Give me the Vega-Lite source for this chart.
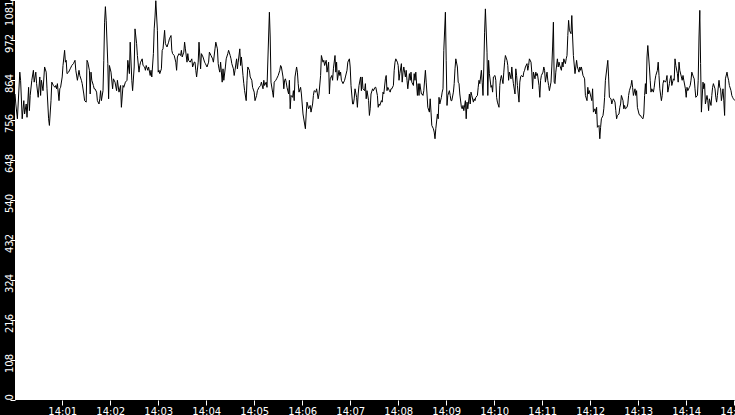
{
  "$schema": "https://vega.github.io/schema/vega-lite/v6.json",
  "width": 720,
  "height": 400,
  "autosize": {"type": "none"},
  "padding": {"left": 15, "top": 0, "right": 0, "bottom": 15},
  "background": "#000000",
  "config": {"view": {"fill": "#ffffff", "stroke": null}, "font": "DejaVu Sans"},
  "data": {
    "values": [
      {"t":"2024-01-01T14:00:01","v":827},{"t":"2024-01-01T14:00:02","v":800},{"t":"2024-01-01T14:00:04","v":760},{"t":"2024-01-01T14:00:07","v":886},{"t":"2024-01-01T14:00:08","v":864},{"t":"2024-01-01T14:00:10","v":760},{"t":"2024-01-01T14:00:12","v":809},{"t":"2024-01-01T14:00:13","v":773},{"t":"2024-01-01T14:00:15","v":800},{"t":"2024-01-01T14:00:16","v":764},{"t":"2024-01-01T14:00:18","v":845},{"t":"2024-01-01T14:00:19","v":782},{"t":"2024-01-01T14:00:20","v":823},{"t":"2024-01-01T14:00:22","v":864},{"t":"2024-01-01T14:00:24","v":891},{"t":"2024-01-01T14:00:25","v":859},{"t":"2024-01-01T14:00:27","v":886},{"t":"2024-01-01T14:00:28","v":855},{"t":"2024-01-01T14:00:30","v":818},{"t":"2024-01-01T14:00:32","v":873},{"t":"2024-01-01T14:00:33","v":823},{"t":"2024-01-01T14:00:34","v":864},{"t":"2024-01-01T14:00:36","v":836},{"t":"2024-01-01T14:00:38","v":900},{"t":"2024-01-01T14:00:40","v":886},{"t":"2024-01-01T14:00:41","v":841},{"t":"2024-01-01T14:00:43","v":760},{"t":"2024-01-01T14:00:44","v":742},{"t":"2024-01-01T14:00:46","v":809},{"t":"2024-01-01T14:00:47","v":859},{"t":"2024-01-01T14:00:49","v":850},{"t":"2024-01-01T14:00:51","v":845},{"t":"2024-01-01T14:00:52","v":850},{"t":"2024-01-01T14:00:53","v":841},{"t":"2024-01-01T14:00:54","v":855},{"t":"2024-01-01T14:00:56","v":809},{"t":"2024-01-01T14:00:57","v":841},{"t":"2024-01-01T14:00:58","v":845},
      {"t":"2024-01-01T14:01:00","v":873},{"t":"2024-01-01T14:01:01","v":904},{"t":"2024-01-01T14:01:03","v":945},{"t":"2024-01-01T14:01:04","v":913},{"t":"2024-01-01T14:01:05","v":918},{"t":"2024-01-01T14:01:06","v":882},{"t":"2024-01-01T14:01:08","v":886},{"t":"2024-01-01T14:01:10","v":895},{"t":"2024-01-01T14:01:12","v":904},{"t":"2024-01-01T14:01:14","v":909},{"t":"2024-01-01T14:01:16","v":918},{"t":"2024-01-01T14:01:17","v":891},{"t":"2024-01-01T14:01:19","v":864},{"t":"2024-01-01T14:01:21","v":891},{"t":"2024-01-01T14:01:22","v":877},{"t":"2024-01-01T14:01:24","v":864},{"t":"2024-01-01T14:01:25","v":855},{"t":"2024-01-01T14:01:27","v":827},{"t":"2024-01-01T14:01:28","v":809},{"t":"2024-01-01T14:01:30","v":805},{"t":"2024-01-01T14:01:31","v":918},{"t":"2024-01-01T14:01:32","v":913},{"t":"2024-01-01T14:01:34","v":891},{"t":"2024-01-01T14:01:35","v":827},{"t":"2024-01-01T14:01:36","v":886},{"t":"2024-01-01T14:01:37","v":864},{"t":"2024-01-01T14:01:39","v":850},{"t":"2024-01-01T14:01:40","v":841},{"t":"2024-01-01T14:01:41","v":841},{"t":"2024-01-01T14:01:43","v":832},{"t":"2024-01-01T14:01:44","v":809},{"t":"2024-01-01T14:01:46","v":800},{"t":"2024-01-01T14:01:47","v":814},{"t":"2024-01-01T14:01:48","v":836},{"t":"2024-01-01T14:01:49","v":809},{"t":"2024-01-01T14:01:51","v":836},{"t":"2024-01-01T14:01:52","v":918},{"t":"2024-01-01T14:01:53","v":1021},{"t":"2024-01-01T14:01:54","v":1063},{"t":"2024-01-01T14:01:55","v":1026},{"t":"2024-01-01T14:01:57","v":909},{"t":"2024-01-01T14:01:58","v":814},{"t":"2024-01-01T14:01:59","v":904},
      {"t":"2024-01-01T14:02:01","v":886},{"t":"2024-01-01T14:02:03","v":841},{"t":"2024-01-01T14:02:04","v":868},{"t":"2024-01-01T14:02:06","v":859},{"t":"2024-01-01T14:02:08","v":836},{"t":"2024-01-01T14:02:09","v":864},{"t":"2024-01-01T14:02:11","v":832},{"t":"2024-01-01T14:02:13","v":850},{"t":"2024-01-01T14:02:14","v":791},{"t":"2024-01-01T14:02:16","v":850},{"t":"2024-01-01T14:02:17","v":845},{"t":"2024-01-01T14:02:19","v":859},{"t":"2024-01-01T14:02:21","v":864},{"t":"2024-01-01T14:02:22","v":918},{"t":"2024-01-01T14:02:24","v":882},{"t":"2024-01-01T14:02:25","v":967},{"t":"2024-01-01T14:02:27","v":864},{"t":"2024-01-01T14:02:28","v":836},{"t":"2024-01-01T14:02:30","v":900},{"t":"2024-01-01T14:02:31","v":1003},{"t":"2024-01-01T14:02:33","v":963},{"t":"2024-01-01T14:02:34","v":931},{"t":"2024-01-01T14:02:36","v":886},{"t":"2024-01-01T14:02:37","v":904},{"t":"2024-01-01T14:02:38","v":913},{"t":"2024-01-01T14:02:40","v":922},{"t":"2024-01-01T14:02:41","v":904},{"t":"2024-01-01T14:02:43","v":900},{"t":"2024-01-01T14:02:44","v":891},{"t":"2024-01-01T14:02:45","v":904},{"t":"2024-01-01T14:02:47","v":891},{"t":"2024-01-01T14:02:48","v":900},{"t":"2024-01-01T14:02:50","v":877},{"t":"2024-01-01T14:02:51","v":891},{"t":"2024-01-01T14:02:52","v":873},{"t":"2024-01-01T14:02:54","v":936},{"t":"2024-01-01T14:02:55","v":1003},{"t":"2024-01-01T14:02:56","v":1035},{"t":"2024-01-01T14:02:57","v":1079},{"t":"2024-01-01T14:02:59","v":999},
      {"t":"2024-01-01T14:03:00","v":886},{"t":"2024-01-01T14:03:01","v":891},{"t":"2024-01-01T14:03:02","v":882},{"t":"2024-01-01T14:03:04","v":895},{"t":"2024-01-01T14:03:05","v":945},{"t":"2024-01-01T14:03:06","v":949},{"t":"2024-01-01T14:03:08","v":999},{"t":"2024-01-01T14:03:09","v":963},{"t":"2024-01-01T14:03:11","v":954},{"t":"2024-01-01T14:03:13","v":967},{"t":"2024-01-01T14:03:14","v":976},{"t":"2024-01-01T14:03:16","v":985},{"t":"2024-01-01T14:03:17","v":945},{"t":"2024-01-01T14:03:18","v":936},{"t":"2024-01-01T14:03:20","v":931},{"t":"2024-01-01T14:03:22","v":913},{"t":"2024-01-01T14:03:23","v":891},{"t":"2024-01-01T14:03:24","v":927},{"t":"2024-01-01T14:03:26","v":936},{"t":"2024-01-01T14:03:28","v":931},{"t":"2024-01-01T14:03:29","v":945},{"t":"2024-01-01T14:03:30","v":927},{"t":"2024-01-01T14:03:32","v":940},{"t":"2024-01-01T14:03:33","v":967},{"t":"2024-01-01T14:03:34","v":949},{"t":"2024-01-01T14:03:36","v":913},{"t":"2024-01-01T14:03:37","v":936},{"t":"2024-01-01T14:03:38","v":918},{"t":"2024-01-01T14:03:40","v":913},{"t":"2024-01-01T14:03:42","v":922},{"t":"2024-01-01T14:03:43","v":900},{"t":"2024-01-01T14:03:45","v":913},{"t":"2024-01-01T14:03:46","v":913},{"t":"2024-01-01T14:03:47","v":891},{"t":"2024-01-01T14:03:48","v":873},{"t":"2024-01-01T14:03:50","v":913},{"t":"2024-01-01T14:03:51","v":967},{"t":"2024-01-01T14:03:53","v":895},{"t":"2024-01-01T14:03:54","v":936},{"t":"2024-01-01T14:03:56","v":927},{"t":"2024-01-01T14:03:58","v":913},{"t":"2024-01-01T14:03:59","v":909},
      {"t":"2024-01-01T14:04:01","v":900},{"t":"2024-01-01T14:04:03","v":913},{"t":"2024-01-01T14:04:04","v":940},{"t":"2024-01-01T14:04:06","v":931},{"t":"2024-01-01T14:04:08","v":922},{"t":"2024-01-01T14:04:09","v":913},{"t":"2024-01-01T14:04:11","v":949},{"t":"2024-01-01T14:04:12","v":967},{"t":"2024-01-01T14:04:14","v":949},{"t":"2024-01-01T14:04:15","v":909},{"t":"2024-01-01T14:04:16","v":895},{"t":"2024-01-01T14:04:17","v":886},{"t":"2024-01-01T14:04:18","v":913},{"t":"2024-01-01T14:04:20","v":859},{"t":"2024-01-01T14:04:21","v":895},{"t":"2024-01-01T14:04:22","v":864},{"t":"2024-01-01T14:04:24","v":900},{"t":"2024-01-01T14:04:25","v":922},{"t":"2024-01-01T14:04:27","v":936},{"t":"2024-01-01T14:04:28","v":945},{"t":"2024-01-01T14:04:30","v":931},{"t":"2024-01-01T14:04:31","v":922},{"t":"2024-01-01T14:04:32","v":909},{"t":"2024-01-01T14:04:34","v":895},{"t":"2024-01-01T14:04:35","v":877},{"t":"2024-01-01T14:04:36","v":891},{"t":"2024-01-01T14:04:38","v":922},{"t":"2024-01-01T14:04:39","v":895},{"t":"2024-01-01T14:04:40","v":913},{"t":"2024-01-01T14:04:42","v":949},{"t":"2024-01-01T14:04:43","v":904},{"t":"2024-01-01T14:04:44","v":927},{"t":"2024-01-01T14:04:46","v":877},{"t":"2024-01-01T14:04:47","v":855},{"t":"2024-01-01T14:04:48","v":836},{"t":"2024-01-01T14:04:50","v":809},{"t":"2024-01-01T14:04:51","v":864},{"t":"2024-01-01T14:04:52","v":900},{"t":"2024-01-01T14:04:54","v":891},{"t":"2024-01-01T14:04:55","v":873},{"t":"2024-01-01T14:04:57","v":864},{"t":"2024-01-01T14:04:58","v":845},
      {"t":"2024-01-01T14:05:00","v":832},{"t":"2024-01-01T14:05:01","v":809},{"t":"2024-01-01T14:05:03","v":823},{"t":"2024-01-01T14:05:04","v":836},{"t":"2024-01-01T14:05:06","v":845},{"t":"2024-01-01T14:05:08","v":850},{"t":"2024-01-01T14:05:09","v":859},{"t":"2024-01-01T14:05:11","v":841},{"t":"2024-01-01T14:05:12","v":864},{"t":"2024-01-01T14:05:13","v":850},{"t":"2024-01-01T14:05:15","v":859},{"t":"2024-01-01T14:05:16","v":845},{"t":"2024-01-01T14:05:18","v":981},{"t":"2024-01-01T14:05:19","v":1048},{"t":"2024-01-01T14:05:20","v":981},{"t":"2024-01-01T14:05:21","v":859},{"t":"2024-01-01T14:05:23","v":832},{"t":"2024-01-01T14:05:24","v":818},{"t":"2024-01-01T14:05:25","v":859},{"t":"2024-01-01T14:05:27","v":864},{"t":"2024-01-01T14:05:28","v":868},{"t":"2024-01-01T14:05:30","v":877},{"t":"2024-01-01T14:05:32","v":891},{"t":"2024-01-01T14:05:33","v":904},{"t":"2024-01-01T14:05:34","v":900},{"t":"2024-01-01T14:05:36","v":873},{"t":"2024-01-01T14:05:37","v":841},{"t":"2024-01-01T14:05:38","v":864},{"t":"2024-01-01T14:05:39","v":868},{"t":"2024-01-01T14:05:40","v":859},{"t":"2024-01-01T14:05:41","v":845},{"t":"2024-01-01T14:05:43","v":827},{"t":"2024-01-01T14:05:44","v":864},{"t":"2024-01-01T14:05:45","v":787},{"t":"2024-01-01T14:05:46","v":823},{"t":"2024-01-01T14:05:48","v":818},{"t":"2024-01-01T14:05:49","v":836},{"t":"2024-01-01T14:05:50","v":809},{"t":"2024-01-01T14:05:51","v":873},{"t":"2024-01-01T14:05:53","v":900},{"t":"2024-01-01T14:05:54","v":886},{"t":"2024-01-01T14:05:55","v":855},{"t":"2024-01-01T14:05:56","v":832},{"t":"2024-01-01T14:05:58","v":845},{"t":"2024-01-01T14:05:59","v":827},
      {"t":"2024-01-01T14:06:01","v":773},{"t":"2024-01-01T14:06:03","v":746},{"t":"2024-01-01T14:06:04","v":733},{"t":"2024-01-01T14:06:05","v":773},{"t":"2024-01-01T14:06:06","v":805},{"t":"2024-01-01T14:06:08","v":787},{"t":"2024-01-01T14:06:10","v":796},{"t":"2024-01-01T14:06:11","v":778},{"t":"2024-01-01T14:06:13","v":800},{"t":"2024-01-01T14:06:14","v":823},{"t":"2024-01-01T14:06:15","v":836},{"t":"2024-01-01T14:06:17","v":832},{"t":"2024-01-01T14:06:18","v":841},{"t":"2024-01-01T14:06:20","v":814},{"t":"2024-01-01T14:06:21","v":827},{"t":"2024-01-01T14:06:23","v":877},{"t":"2024-01-01T14:06:24","v":931},{"t":"2024-01-01T14:06:26","v":913},{"t":"2024-01-01T14:06:27","v":918},{"t":"2024-01-01T14:06:28","v":904},{"t":"2024-01-01T14:06:30","v":918},{"t":"2024-01-01T14:06:31","v":886},{"t":"2024-01-01T14:06:33","v":913},{"t":"2024-01-01T14:06:34","v":827},{"t":"2024-01-01T14:06:35","v":868},{"t":"2024-01-01T14:06:37","v":877},{"t":"2024-01-01T14:06:38","v":864},{"t":"2024-01-01T14:06:39","v":895},{"t":"2024-01-01T14:06:41","v":931},{"t":"2024-01-01T14:06:42","v":886},{"t":"2024-01-01T14:06:43","v":913},{"t":"2024-01-01T14:06:44","v":864},{"t":"2024-01-01T14:06:46","v":891},{"t":"2024-01-01T14:06:47","v":877},{"t":"2024-01-01T14:06:48","v":886},{"t":"2024-01-01T14:06:49","v":864},{"t":"2024-01-01T14:06:51","v":855},{"t":"2024-01-01T14:06:53","v":864},{"t":"2024-01-01T14:06:54","v":873},{"t":"2024-01-01T14:06:56","v":891},{"t":"2024-01-01T14:06:57","v":913},{"t":"2024-01-01T14:06:59","v":922},
      {"t":"2024-01-01T14:07:00","v":900},{"t":"2024-01-01T14:07:01","v":850},{"t":"2024-01-01T14:07:03","v":800},{"t":"2024-01-01T14:07:04","v":800},{"t":"2024-01-01T14:07:05","v":814},{"t":"2024-01-01T14:07:06","v":841},{"t":"2024-01-01T14:07:08","v":818},{"t":"2024-01-01T14:07:09","v":791},{"t":"2024-01-01T14:07:10","v":827},{"t":"2024-01-01T14:07:11","v":850},{"t":"2024-01-01T14:07:13","v":873},{"t":"2024-01-01T14:07:14","v":836},{"t":"2024-01-01T14:07:15","v":873},{"t":"2024-01-01T14:07:16","v":841},{"t":"2024-01-01T14:07:18","v":836},{"t":"2024-01-01T14:07:19","v":855},{"t":"2024-01-01T14:07:20","v":814},{"t":"2024-01-01T14:07:21","v":836},{"t":"2024-01-01T14:07:23","v":809},{"t":"2024-01-01T14:07:24","v":769},{"t":"2024-01-01T14:07:25","v":787},{"t":"2024-01-01T14:07:26","v":827},{"t":"2024-01-01T14:07:28","v":841},{"t":"2024-01-01T14:07:29","v":836},{"t":"2024-01-01T14:07:31","v":845},{"t":"2024-01-01T14:07:32","v":845},{"t":"2024-01-01T14:07:34","v":823},{"t":"2024-01-01T14:07:35","v":791},{"t":"2024-01-01T14:07:36","v":800},{"t":"2024-01-01T14:07:37","v":796},{"t":"2024-01-01T14:07:39","v":809},{"t":"2024-01-01T14:07:40","v":805},{"t":"2024-01-01T14:07:41","v":832},{"t":"2024-01-01T14:07:42","v":827},{"t":"2024-01-01T14:07:44","v":868},{"t":"2024-01-01T14:07:45","v":877},{"t":"2024-01-01T14:07:46","v":836},{"t":"2024-01-01T14:07:47","v":845},{"t":"2024-01-01T14:07:49","v":836},{"t":"2024-01-01T14:07:50","v":832},{"t":"2024-01-01T14:07:51","v":841},{"t":"2024-01-01T14:07:52","v":841},{"t":"2024-01-01T14:07:54","v":850},{"t":"2024-01-01T14:07:55","v":891},{"t":"2024-01-01T14:07:56","v":913},{"t":"2024-01-01T14:07:57","v":922},{"t":"2024-01-01T14:07:59","v":913},
      {"t":"2024-01-01T14:08:00","v":904},{"t":"2024-01-01T14:08:01","v":864},{"t":"2024-01-01T14:08:02","v":882},{"t":"2024-01-01T14:08:04","v":909},{"t":"2024-01-01T14:08:05","v":859},{"t":"2024-01-01T14:08:06","v":886},{"t":"2024-01-01T14:08:07","v":900},{"t":"2024-01-01T14:08:09","v":873},{"t":"2024-01-01T14:08:10","v":891},{"t":"2024-01-01T14:08:11","v":864},{"t":"2024-01-01T14:08:12","v":841},{"t":"2024-01-01T14:08:14","v":882},{"t":"2024-01-01T14:08:15","v":864},{"t":"2024-01-01T14:08:16","v":886},{"t":"2024-01-01T14:08:17","v":859},{"t":"2024-01-01T14:08:19","v":850},{"t":"2024-01-01T14:08:20","v":882},{"t":"2024-01-01T14:08:21","v":864},{"t":"2024-01-01T14:08:22","v":886},{"t":"2024-01-01T14:08:24","v":823},{"t":"2024-01-01T14:08:25","v":855},{"t":"2024-01-01T14:08:26","v":823},{"t":"2024-01-01T14:08:27","v":855},{"t":"2024-01-01T14:08:29","v":827},{"t":"2024-01-01T14:08:30","v":827},{"t":"2024-01-01T14:08:31","v":823},{"t":"2024-01-01T14:08:32","v":836},{"t":"2024-01-01T14:08:34","v":891},{"t":"2024-01-01T14:08:35","v":859},{"t":"2024-01-01T14:08:36","v":827},{"t":"2024-01-01T14:08:37","v":791},{"t":"2024-01-01T14:08:39","v":778},{"t":"2024-01-01T14:08:40","v":814},{"t":"2024-01-01T14:08:41","v":778},{"t":"2024-01-01T14:08:42","v":742},{"t":"2024-01-01T14:08:44","v":733},{"t":"2024-01-01T14:08:45","v":724},{"t":"2024-01-01T14:08:46","v":706},{"t":"2024-01-01T14:08:47","v":733},{"t":"2024-01-01T14:08:49","v":773},{"t":"2024-01-01T14:08:50","v":760},{"t":"2024-01-01T14:08:51","v":818},{"t":"2024-01-01T14:08:52","v":800},{"t":"2024-01-01T14:08:54","v":818},{"t":"2024-01-01T14:08:55","v":832},{"t":"2024-01-01T14:08:56","v":841},{"t":"2024-01-01T14:08:57","v":945},{"t":"2024-01-01T14:08:59","v":1048},
      {"t":"2024-01-01T14:09:00","v":918},{"t":"2024-01-01T14:09:01","v":796},{"t":"2024-01-01T14:09:02","v":823},{"t":"2024-01-01T14:09:04","v":836},{"t":"2024-01-01T14:09:05","v":823},{"t":"2024-01-01T14:09:06","v":809},{"t":"2024-01-01T14:09:07","v":809},{"t":"2024-01-01T14:09:09","v":832},{"t":"2024-01-01T14:09:10","v":855},{"t":"2024-01-01T14:09:11","v":895},{"t":"2024-01-01T14:09:12","v":922},{"t":"2024-01-01T14:09:14","v":900},{"t":"2024-01-01T14:09:15","v":859},{"t":"2024-01-01T14:09:16","v":855},{"t":"2024-01-01T14:09:17","v":827},{"t":"2024-01-01T14:09:19","v":791},{"t":"2024-01-01T14:09:20","v":787},{"t":"2024-01-01T14:09:21","v":796},{"t":"2024-01-01T14:09:22","v":782},{"t":"2024-01-01T14:09:24","v":809},{"t":"2024-01-01T14:09:25","v":760},{"t":"2024-01-01T14:09:26","v":805},{"t":"2024-01-01T14:09:27","v":787},{"t":"2024-01-01T14:09:29","v":827},{"t":"2024-01-01T14:09:30","v":800},{"t":"2024-01-01T14:09:31","v":832},{"t":"2024-01-01T14:09:32","v":823},{"t":"2024-01-01T14:09:34","v":805},{"t":"2024-01-01T14:09:35","v":814},{"t":"2024-01-01T14:09:36","v":809},{"t":"2024-01-01T14:09:37","v":818},{"t":"2024-01-01T14:09:39","v":823},{"t":"2024-01-01T14:09:40","v":845},{"t":"2024-01-01T14:09:41","v":864},{"t":"2024-01-01T14:09:42","v":855},{"t":"2024-01-01T14:09:44","v":891},{"t":"2024-01-01T14:09:45","v":859},{"t":"2024-01-01T14:09:46","v":823},{"t":"2024-01-01T14:09:47","v":900},{"t":"2024-01-01T14:09:48","v":994},{"t":"2024-01-01T14:09:49","v":1057},{"t":"2024-01-01T14:09:51","v":940},{"t":"2024-01-01T14:09:52","v":823},{"t":"2024-01-01T14:09:53","v":918},{"t":"2024-01-01T14:09:54","v":882},{"t":"2024-01-01T14:09:56","v":845},{"t":"2024-01-01T14:09:57","v":850},{"t":"2024-01-01T14:09:58","v":832},{"t":"2024-01-01T14:09:59","v":873},
      {"t":"2024-01-01T14:10:01","v":877},{"t":"2024-01-01T14:10:02","v":864},{"t":"2024-01-01T14:10:03","v":818},{"t":"2024-01-01T14:10:04","v":805},{"t":"2024-01-01T14:10:06","v":791},{"t":"2024-01-01T14:10:07","v":850},{"t":"2024-01-01T14:10:08","v":868},{"t":"2024-01-01T14:10:09","v":877},{"t":"2024-01-01T14:10:11","v":855},{"t":"2024-01-01T14:10:12","v":886},{"t":"2024-01-01T14:10:13","v":913},{"t":"2024-01-01T14:10:14","v":931},{"t":"2024-01-01T14:10:16","v":918},{"t":"2024-01-01T14:10:17","v":904},{"t":"2024-01-01T14:10:18","v":864},{"t":"2024-01-01T14:10:19","v":886},{"t":"2024-01-01T14:10:21","v":868},{"t":"2024-01-01T14:10:22","v":900},{"t":"2024-01-01T14:10:23","v":873},{"t":"2024-01-01T14:10:24","v":855},{"t":"2024-01-01T14:10:26","v":827},{"t":"2024-01-01T14:10:27","v":895},{"t":"2024-01-01T14:10:28","v":877},{"t":"2024-01-01T14:10:29","v":850},{"t":"2024-01-01T14:10:31","v":805},{"t":"2024-01-01T14:10:32","v":859},{"t":"2024-01-01T14:10:33","v":873},{"t":"2024-01-01T14:10:34","v":877},{"t":"2024-01-01T14:10:36","v":873},{"t":"2024-01-01T14:10:37","v":886},{"t":"2024-01-01T14:10:38","v":891},{"t":"2024-01-01T14:10:39","v":900},{"t":"2024-01-01T14:10:41","v":909},{"t":"2024-01-01T14:10:42","v":891},{"t":"2024-01-01T14:10:43","v":904},{"t":"2024-01-01T14:10:44","v":922},{"t":"2024-01-01T14:10:46","v":913},{"t":"2024-01-01T14:10:47","v":886},{"t":"2024-01-01T14:10:48","v":841},{"t":"2024-01-01T14:10:49","v":886},{"t":"2024-01-01T14:10:51","v":868},{"t":"2024-01-01T14:10:52","v":886},{"t":"2024-01-01T14:10:53","v":877},{"t":"2024-01-01T14:10:54","v":882},{"t":"2024-01-01T14:10:56","v":850},{"t":"2024-01-01T14:10:57","v":818},{"t":"2024-01-01T14:10:58","v":864},{"t":"2024-01-01T14:10:59","v":877},
      {"t":"2024-01-01T14:11:01","v":886},{"t":"2024-01-01T14:11:02","v":900},{"t":"2024-01-01T14:11:03","v":891},{"t":"2024-01-01T14:11:04","v":859},{"t":"2024-01-01T14:11:06","v":886},{"t":"2024-01-01T14:11:07","v":864},{"t":"2024-01-01T14:11:08","v":850},{"t":"2024-01-01T14:11:09","v":836},{"t":"2024-01-01T14:11:11","v":859},{"t":"2024-01-01T14:11:12","v":900},{"t":"2024-01-01T14:11:13","v":954},{"t":"2024-01-01T14:11:14","v":1021},{"t":"2024-01-01T14:11:15","v":859},{"t":"2024-01-01T14:11:16","v":855},{"t":"2024-01-01T14:11:17","v":886},{"t":"2024-01-01T14:11:19","v":922},{"t":"2024-01-01T14:11:20","v":900},{"t":"2024-01-01T14:11:21","v":913},{"t":"2024-01-01T14:11:22","v":904},{"t":"2024-01-01T14:11:24","v":891},{"t":"2024-01-01T14:11:25","v":913},{"t":"2024-01-01T14:11:26","v":900},{"t":"2024-01-01T14:11:27","v":922},{"t":"2024-01-01T14:11:29","v":909},{"t":"2024-01-01T14:11:30","v":922},{"t":"2024-01-01T14:11:31","v":931},{"t":"2024-01-01T14:11:32","v":985},{"t":"2024-01-01T14:11:33","v":1026},{"t":"2024-01-01T14:11:34","v":999},{"t":"2024-01-01T14:11:36","v":990},{"t":"2024-01-01T14:11:37","v":1039},{"t":"2024-01-01T14:11:38","v":981},{"t":"2024-01-01T14:11:39","v":931},{"t":"2024-01-01T14:11:41","v":882},{"t":"2024-01-01T14:11:42","v":900},{"t":"2024-01-01T14:11:43","v":918},{"t":"2024-01-01T14:11:44","v":900},{"t":"2024-01-01T14:11:46","v":886},{"t":"2024-01-01T14:11:47","v":900},{"t":"2024-01-01T14:11:48","v":891},{"t":"2024-01-01T14:11:49","v":900},{"t":"2024-01-01T14:11:51","v":877},{"t":"2024-01-01T14:11:52","v":873},{"t":"2024-01-01T14:11:53","v":868},{"t":"2024-01-01T14:11:54","v":823},{"t":"2024-01-01T14:11:56","v":809},{"t":"2024-01-01T14:11:57","v":845},{"t":"2024-01-01T14:11:58","v":827},{"t":"2024-01-01T14:11:59","v":836},
      {"t":"2024-01-01T14:12:01","v":818},{"t":"2024-01-01T14:12:02","v":809},{"t":"2024-01-01T14:12:03","v":841},{"t":"2024-01-01T14:12:04","v":778},{"t":"2024-01-01T14:12:06","v":787},{"t":"2024-01-01T14:12:07","v":773},{"t":"2024-01-01T14:12:08","v":791},{"t":"2024-01-01T14:12:09","v":737},{"t":"2024-01-01T14:12:11","v":742},{"t":"2024-01-01T14:12:12","v":706},{"t":"2024-01-01T14:12:13","v":737},{"t":"2024-01-01T14:12:14","v":760},{"t":"2024-01-01T14:12:16","v":769},{"t":"2024-01-01T14:12:17","v":787},{"t":"2024-01-01T14:12:18","v":818},{"t":"2024-01-01T14:12:19","v":864},{"t":"2024-01-01T14:12:21","v":900},{"t":"2024-01-01T14:12:22","v":918},{"t":"2024-01-01T14:12:23","v":873},{"t":"2024-01-01T14:12:24","v":818},{"t":"2024-01-01T14:12:26","v":814},{"t":"2024-01-01T14:12:27","v":800},{"t":"2024-01-01T14:12:28","v":809},{"t":"2024-01-01T14:12:29","v":814},{"t":"2024-01-01T14:12:31","v":805},{"t":"2024-01-01T14:12:32","v":782},{"t":"2024-01-01T14:12:33","v":760},{"t":"2024-01-01T14:12:34","v":769},{"t":"2024-01-01T14:12:36","v":773},{"t":"2024-01-01T14:12:37","v":791},{"t":"2024-01-01T14:12:38","v":800},{"t":"2024-01-01T14:12:39","v":823},{"t":"2024-01-01T14:12:41","v":809},{"t":"2024-01-01T14:12:42","v":787},{"t":"2024-01-01T14:12:43","v":796},{"t":"2024-01-01T14:12:44","v":787},{"t":"2024-01-01T14:12:46","v":791},{"t":"2024-01-01T14:12:47","v":800},{"t":"2024-01-01T14:12:48","v":823},{"t":"2024-01-01T14:12:49","v":836},{"t":"2024-01-01T14:12:51","v":850},{"t":"2024-01-01T14:12:52","v":864},{"t":"2024-01-01T14:12:53","v":845},{"t":"2024-01-01T14:12:54","v":823},{"t":"2024-01-01T14:12:56","v":841},{"t":"2024-01-01T14:12:57","v":823},{"t":"2024-01-01T14:12:58","v":836},{"t":"2024-01-01T14:12:59","v":791},
      {"t":"2024-01-01T14:13:01","v":773},{"t":"2024-01-01T14:13:02","v":769},{"t":"2024-01-01T14:13:03","v":769},{"t":"2024-01-01T14:13:04","v":764},{"t":"2024-01-01T14:13:06","v":760},{"t":"2024-01-01T14:13:07","v":773},{"t":"2024-01-01T14:13:08","v":823},{"t":"2024-01-01T14:13:09","v":855},{"t":"2024-01-01T14:13:10","v":827},{"t":"2024-01-01T14:13:11","v":927},{"t":"2024-01-01T14:13:12","v":958},{"t":"2024-01-01T14:13:14","v":900},{"t":"2024-01-01T14:13:15","v":864},{"t":"2024-01-01T14:13:16","v":832},{"t":"2024-01-01T14:13:17","v":841},{"t":"2024-01-01T14:13:19","v":832},{"t":"2024-01-01T14:13:20","v":845},{"t":"2024-01-01T14:13:21","v":864},{"t":"2024-01-01T14:13:22","v":877},{"t":"2024-01-01T14:13:24","v":891},{"t":"2024-01-01T14:13:25","v":913},{"t":"2024-01-01T14:13:26","v":877},{"t":"2024-01-01T14:13:27","v":841},{"t":"2024-01-01T14:13:29","v":809},{"t":"2024-01-01T14:13:30","v":823},{"t":"2024-01-01T14:13:31","v":855},{"t":"2024-01-01T14:13:32","v":864},{"t":"2024-01-01T14:13:34","v":859},{"t":"2024-01-01T14:13:35","v":864},{"t":"2024-01-01T14:13:36","v":877},{"t":"2024-01-01T14:13:37","v":832},{"t":"2024-01-01T14:13:39","v":855},{"t":"2024-01-01T14:13:40","v":868},{"t":"2024-01-01T14:13:41","v":877},{"t":"2024-01-01T14:13:42","v":850},{"t":"2024-01-01T14:13:44","v":868},{"t":"2024-01-01T14:13:45","v":864},{"t":"2024-01-01T14:13:46","v":922},{"t":"2024-01-01T14:13:47","v":904},{"t":"2024-01-01T14:13:49","v":882},{"t":"2024-01-01T14:13:50","v":859},{"t":"2024-01-01T14:13:51","v":913},{"t":"2024-01-01T14:13:52","v":891},{"t":"2024-01-01T14:13:54","v":873},{"t":"2024-01-01T14:13:55","v":864},{"t":"2024-01-01T14:13:56","v":877},{"t":"2024-01-01T14:13:57","v":864},{"t":"2024-01-01T14:13:59","v":841},
      {"t":"2024-01-01T14:14:00","v":818},{"t":"2024-01-01T14:14:01","v":845},{"t":"2024-01-01T14:14:02","v":836},{"t":"2024-01-01T14:14:04","v":845},{"t":"2024-01-01T14:14:05","v":850},{"t":"2024-01-01T14:14:06","v":864},{"t":"2024-01-01T14:14:07","v":886},{"t":"2024-01-01T14:14:09","v":873},{"t":"2024-01-01T14:14:10","v":868},{"t":"2024-01-01T14:14:11","v":841},{"t":"2024-01-01T14:14:12","v":818},{"t":"2024-01-01T14:14:14","v":823},{"t":"2024-01-01T14:14:15","v":864},{"t":"2024-01-01T14:14:16","v":981},{"t":"2024-01-01T14:14:17","v":1053},{"t":"2024-01-01T14:14:18","v":909},{"t":"2024-01-01T14:14:19","v":778},{"t":"2024-01-01T14:14:21","v":859},{"t":"2024-01-01T14:14:22","v":841},{"t":"2024-01-01T14:14:23","v":855},{"t":"2024-01-01T14:14:24","v":800},{"t":"2024-01-01T14:14:26","v":823},{"t":"2024-01-01T14:14:27","v":809},{"t":"2024-01-01T14:14:28","v":782},{"t":"2024-01-01T14:14:29","v":814},{"t":"2024-01-01T14:14:31","v":796},{"t":"2024-01-01T14:14:32","v":823},{"t":"2024-01-01T14:14:33","v":845},{"t":"2024-01-01T14:14:34","v":855},{"t":"2024-01-01T14:14:36","v":841},{"t":"2024-01-01T14:14:37","v":818},{"t":"2024-01-01T14:14:38","v":805},{"t":"2024-01-01T14:14:39","v":823},{"t":"2024-01-01T14:14:41","v":864},{"t":"2024-01-01T14:14:42","v":845},{"t":"2024-01-01T14:14:43","v":841},{"t":"2024-01-01T14:14:44","v":809},{"t":"2024-01-01T14:14:46","v":841},{"t":"2024-01-01T14:14:47","v":809},{"t":"2024-01-01T14:14:48","v":769},{"t":"2024-01-01T14:14:49","v":868},{"t":"2024-01-01T14:14:51","v":886},{"t":"2024-01-01T14:14:52","v":873},{"t":"2024-01-01T14:14:53","v":864},{"t":"2024-01-01T14:14:54","v":850},{"t":"2024-01-01T14:14:56","v":836},{"t":"2024-01-01T14:14:57","v":823},{"t":"2024-01-01T14:14:58","v":818},{"t":"2024-01-01T14:14:59","v":814},
      {"t":"2024-01-01T14:15:01","v":809}
    ]
  },
  "mark": {"type": "line", "color": "#000000", "strokeWidth": 1, "interpolate": "linear"},
  "encoding": {
    "x": {
      "field": "t",
      "type": "temporal",
      "scale": {"nice": false},
      "axis": {
        "title": null,
        "format": "%H:%M",
        "tickCount": 15,
        "grid": false,
        "domain": false,
        "tickColor": "#ffffff",
        "tickSize": 5,
        "labelColor": "#ffffff",
        "labelFont": "DejaVu Sans",
        "labelFontSize": 10,
        "labelPadding": 1,
        "labelFlush": false,
        "labelBound": false,
        "labelOverlap": false
      }
    },
    "y": {
      "field": "v",
      "type": "quantitative",
      "scale": {"domain": [0, 1081], "nice": false},
      "axis": {
        "title": null,
        "values": [0, 108.1, 216.2, 324.3, 432.4, 540.5, 648.6, 756.7, 864.8, 972.9, 1081],
        "labelExpr": "'' + floor(datum.value)",
        "grid": false,
        "domain": false,
        "tickColor": "#ffffff",
        "tickSize": 5,
        "labelColor": "#ffffff",
        "labelFont": "DejaVu Sans",
        "labelFontSize": 10,
        "labelAngle": 270,
        "labelBaseline": "alphabetic",
        "labelPadding": -2,
        "labelAlign": {"condition": [{"test": "datum.value == 0", "value": "left"}, {"test": "datum.value == 1081", "value": "right"}], "value": "center"},
        "labelOffset": {"condition": {"test": "datum.value == 0 || datum.value == 1081", "value": 0}, "value": 3},
        "labelFlush": false,
        "labelBound": false,
        "labelOverlap": false
      }
    }
  }
}
